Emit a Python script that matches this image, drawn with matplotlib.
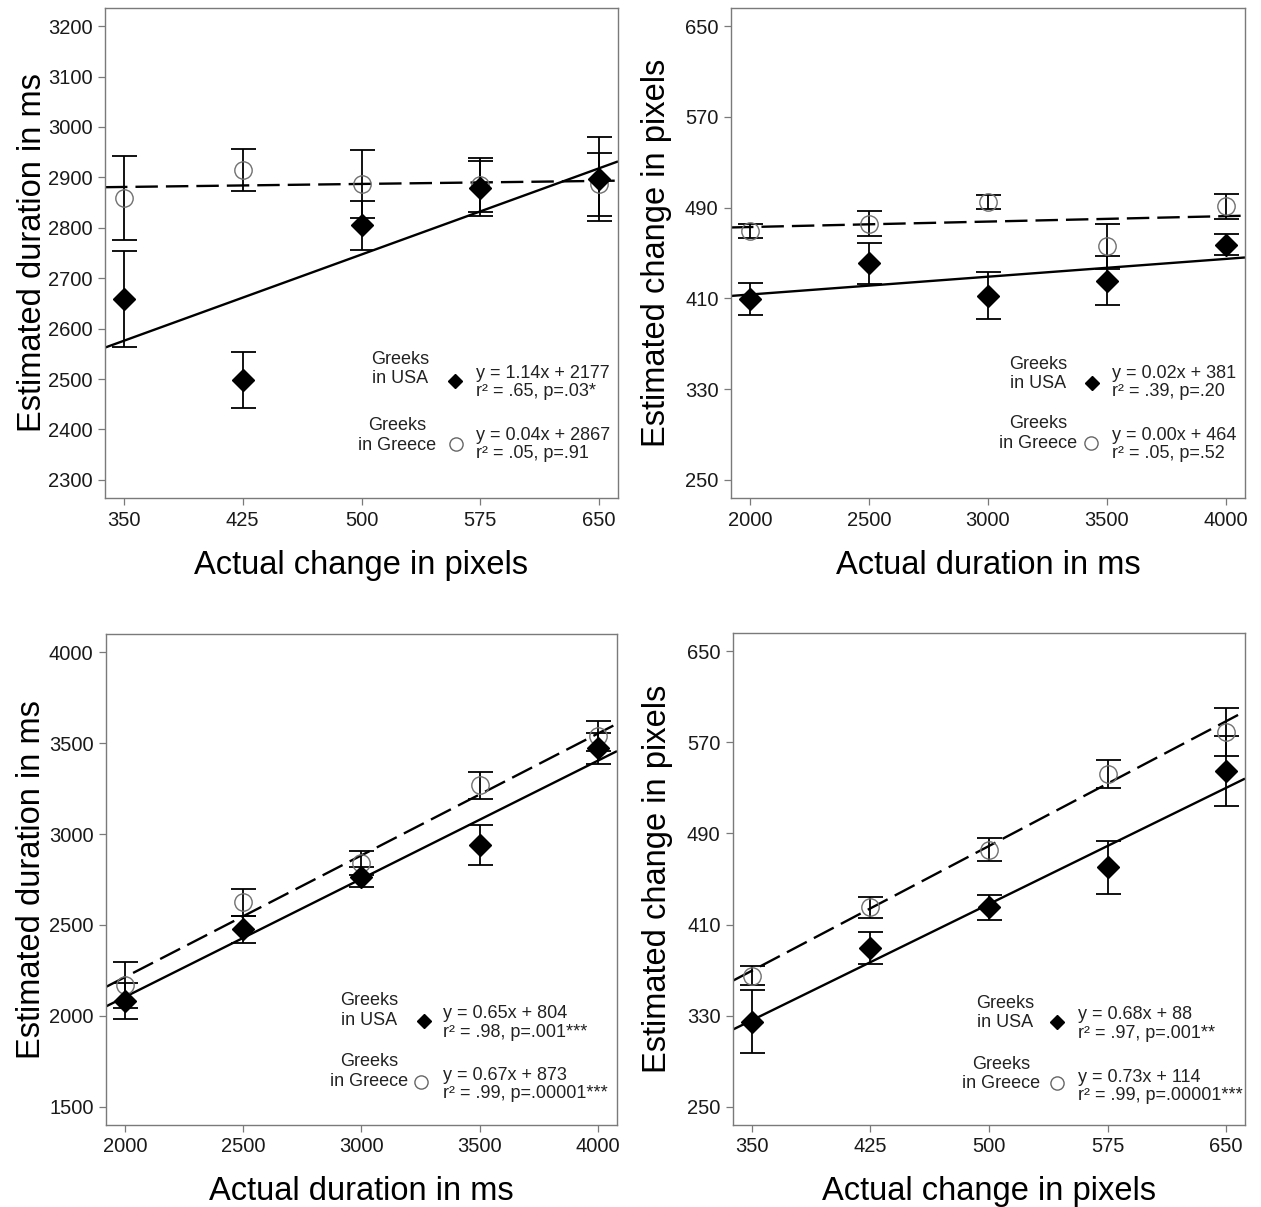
import numpy as np
import matplotlib
matplotlib.use("Agg")
import matplotlib.pyplot as plt

plt.rcParams['font.family'] = ['Liberation Sans', 'DejaVu Sans']

# ---------------- data ----------------
# Panel A (top-left): actual size change -> estimated duration
a_x = [350, 425, 500, 575, 650]
a_usa = [2659, 2498, 2805, 2878, 2897]
a_usa_se = [95, 56, 49, 55, 84]
a_gr = [2859, 2915, 2887, 2885, 2886]
a_gr_se = [84, 42, 68, 54, 63]
a_fit_usa = [1.14, 2177]
a_fit_gr = [0.04, 2867]
a_yticks = [2300, 2400, 2500, 2600, 2700, 2800, 2900, 3000, 3100, 3200]
a_eq_usa = "y = 1.14x + 2177\nr² = .65, p=.03*"
a_eq_gr = "y = 0.04x + 2867\nr² = .05, p=.91"

# Panel B (top-right): actual duration -> estimated size change
b_x = [2000, 2500, 3000, 3500, 4000]
b_usa = [409.6, 441, 412.5, 425.7, 457.3]
b_usa_se = [14, 18, 20.5, 21.4, 9.4]
b_gr = [469.6, 476, 495, 456, 491]
b_gr_se = [6.3, 11, 6, 20, 11]
b_fit_usa = [0.0157, 382]
b_fit_gr = [0.0048, 463.3]
b_yticks = [250, 330, 410, 490, 570, 650]
b_eq_usa = "y = 0.02x + 381\nr² = .39, p=.20"
b_eq_gr = "y = 0.00x + 464\nr² = .05, p=.52"

# Panel C (bottom-left): actual duration -> estimated duration
c_x = [2000, 2500, 3000, 3500, 4000]
c_usa = [2082, 2476, 2766, 2940, 3472]
c_usa_se = [99, 75, 55, 112, 86]
c_gr = [2170, 2624, 2839, 3268, 3537]
c_gr_se = [127, 75, 66, 75, 82]
c_fit_usa = [0.65, 804]
c_fit_gr = [0.67, 873]
c_yticks = [1500, 2000, 2500, 3000, 3500, 4000]
c_eq_usa = "y = 0.65x + 804\nr² = .98, p=.001***"
c_eq_gr = "y = 0.67x + 873\nr² = .99, p=.00001***"

# Panel D (bottom-right): actual size change -> estimated size change
d_x = [350, 425, 500, 575, 650]
d_usa = [324.7, 389.2, 425, 460.4, 545]
d_usa_se = [27.6, 14, 11, 23.4, 31]
d_gr = [365.2, 425, 475.6, 542.2, 579]
d_gr_se = [8, 9, 10, 12, 21]
d_fit_usa = [0.68, 88]
d_fit_gr = [0.73, 114]
d_yticks = [250, 330, 410, 490, 570, 650]
d_eq_usa = "y = 0.68x + 88\nr² = .97, p=.001**"
d_eq_gr = "y = 0.73x + 114\nr² = .99, p=.00001***"

group_usa = "Greeks\nin USA"
group_gr = "Greeks\nin Greece"

# ---------------- figure ----------------
W, H = 1261, 1207
fig = plt.figure(figsize=(W / 100, H / 100), dpi=100)


def px_axes(l, t, r, b):
    return fig.add_axes([l / W, (H - b) / H, (r - l) / W, (b - t) / H])


FRAME = '#7a7a7a'
TXT = '#1a1a1a'


def panel(ax, x, usa, usa_se, gr, gr_se, fit_usa, fit_gr, yticks, xlabel, ylabel,
          eq_usa, eq_gr, leg, xlab_y, ylab_x):
    x = np.asarray(x, float)
    xr = x.max() - x.min()
    xlo, xhi = x.min() - 0.04 * xr, x.max() + 0.04 * xr
    yr = max(yticks) - min(yticks)
    ylo, yhi = min(yticks) - 0.04 * yr, max(yticks) + 0.04 * yr
    ax.set_xlim(xlo, xhi)
    ax.set_ylim(ylo, yhi)

    # regression lines across whole plotting region
    xx = np.array([xlo, xhi])
    ax.plot(xx, fit_usa[0] * xx + fit_usa[1], color='black', lw=1.7, zorder=2,
            solid_capstyle='butt')
    ax.plot(xx, fit_gr[0] * xx + fit_gr[1], color='black', lw=1.7, zorder=2,
            linestyle=(0, (9.5, 3.4)), dash_capstyle='butt')

    # error bars
    ax.errorbar(x, gr, yerr=gr_se, fmt='none', ecolor='black', elinewidth=1.3,
                capsize=9, capthick=1.3, zorder=3)
    ax.errorbar(x, usa, yerr=usa_se, fmt='none', ecolor='black', elinewidth=1.3,
                capsize=9, capthick=1.3, zorder=3)
    # markers
    ax.plot(x, gr, linestyle='none', marker='o', ms=12.5, mfc='none',
            mec='#707070', mew=1.0, zorder=4)
    ax.plot(x, usa, linestyle='none', marker='D', ms=11, mfc='black',
            mec='black', zorder=5)

    ax.set_xticks(x)
    ax.set_xticklabels([f"{int(v)}" for v in x])
    ax.set_yticks(yticks)
    ax.set_yticklabels([f"{int(v)}" for v in yticks])
    ax.tick_params(direction='out', length=5, width=0.9, color=FRAME,
                   labelsize=14.5, labelcolor=TXT, pad=4)
    for s in ax.spines.values():
        s.set_color(FRAME)
        s.set_linewidth(1.0)

    ax.set_xlabel(xlabel, fontsize=23.5, color='black', va='center')
    ax.xaxis.set_label_coords(0.5, xlab_y)
    ax.set_ylabel(ylabel, fontsize=23.5, color='black', va='center')
    ax.yaxis.set_label_coords(ylab_x, 0.5)

    # in-plot legend
    (tu, ty_u, mu, my_u, eqx, eqy_u,
     tg, ty_g, mg, my_g, eqy_g) = leg
    ax.text(tu, ty_u, group_usa, transform=ax.transAxes, ha='center', va='center',
            fontsize=13, color='#222222', linespacing=1.2)
    ax.plot([mu], [my_u], transform=ax.transAxes, marker='D', ms=7,
            mfc='black', mec='black', linestyle='none', clip_on=False)
    ax.text(eqx, eqy_u, eq_usa, transform=ax.transAxes, ha='left', va='center',
            fontsize=13, color='#222222', linespacing=1.1)
    ax.text(tg, ty_g, group_gr, transform=ax.transAxes, ha='center', va='center',
            fontsize=13, color='#222222', linespacing=1.2)
    ax.plot([mg], [my_g], transform=ax.transAxes, marker='o', ms=9.5,
            mfc='none', mec='#666666', mew=1.0, linestyle='none', clip_on=False)
    ax.text(eqx, eqy_g, eq_gr, transform=ax.transAxes, ha='left', va='center',
            fontsize=13, color='#222222', linespacing=1.1)


ax1 = px_axes(105, 8, 618, 498)
panel(ax1, a_x, a_usa, a_usa_se, a_gr, a_gr_se, a_fit_usa, a_fit_gr, a_yticks,
      "Actual change in pixels", "Estimated duration in ms", a_eq_usa, a_eq_gr,
      (0.575, 0.263, 0.682, 0.239, 0.723, 0.235, 0.569, 0.127, 0.684, 0.110, 0.109),
      -0.137, -0.142)

ax2 = px_axes(731, 8, 1245, 498)
panel(ax2, b_x, b_usa, b_usa_se, b_gr, b_gr_se, b_fit_usa, b_fit_gr, b_yticks,
      "Actual duration in ms", "Estimated change in pixels", b_eq_usa, b_eq_gr,
      (0.597, 0.253, 0.702, 0.235, 0.741, 0.235, 0.597, 0.132, 0.700, 0.112, 0.109),
      -0.137, -0.145)

ax3 = px_axes(106, 634, 617, 1125)
panel(ax3, c_x, c_usa, c_usa_se, c_gr, c_gr_se, c_fit_usa, c_fit_gr, c_yticks,
      "Actual duration in ms", "Estimated duration in ms", c_eq_usa, c_eq_gr,
      (0.515, 0.233, 0.622, 0.212, 0.659, 0.208, 0.515, 0.109, 0.616, 0.0876, 0.0825),
      -0.135, -0.145)

ax4 = px_axes(733, 633, 1245, 1125)
panel(ax4, d_x, d_usa, d_usa_se, d_gr, d_gr_se, d_fit_usa, d_fit_gr, d_yticks,
      "Actual change in pixels", "Estimated change in pixels", d_eq_usa, d_eq_gr,
      (0.531, 0.228, 0.633, 0.209, 0.674, 0.205, 0.523, 0.104, 0.633, 0.085, 0.078),
      -0.135, -0.148)

fig.savefig("out.png", dpi=100, facecolor='white')
